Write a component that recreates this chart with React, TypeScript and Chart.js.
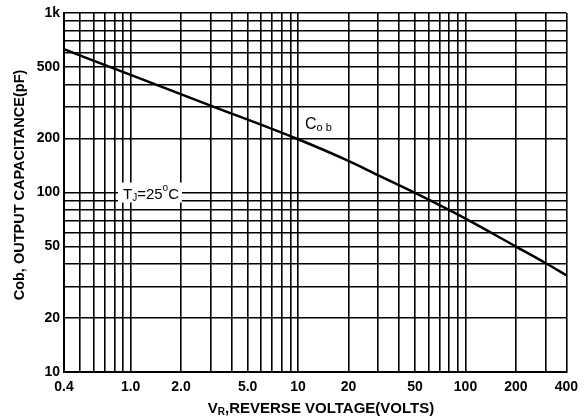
import React, { useEffect, useRef } from 'react';
import { Chart, registerables } from 'chart.js';

Chart.register(...registerables);

// Curve: reverse voltage (V) vs output capacitance (pF)
const voltage = [0.4, 1, 3, 10, 20, 30, 50, 100, 200, 300, 400];
const capacitance = [628, 452, 305, 198, 150, 125, 99.5, 71.6, 50, 40.5, 34.6];

// Axis ticks (grid lines) and labels
const xGridValues = [0.4, 0.5, 0.6, 0.7, 0.8, 0.9, 1, 2, 3, 4, 5, 6, 7, 8, 9, 10, 20, 30, 40, 50, 60, 70, 80, 90, 100, 200, 300, 400];
const xLabelValues = [0.4, 1, 2, 5, 10, 20, 50, 100, 200, 400];
const xLabelTexts = ['0.4', '1.0', '2.0', '5.0', '10', '20', '50', '100', '200', '400'];

const yGridValues = [10, 20, 30, 40, 50, 60, 70, 80, 90, 100, 200, 300, 400, 500, 600, 700, 800, 900, 1000];
const yLabelValues = [10, 20, 50, 100, 200, 500, 1000];
const yLabelTexts = ['10', '20', '50', '100', '200', '500', '1k'];

const FONT = '"Liberation Sans", Arial, sans-serif';
const NARROW = '"Liberation Sans Narrow", "Liberation Sans", Arial, sans-serif';

const textPlugin = {
  id: 'textPlugin',
  afterDraw(chart: any) {
    const ctx = chart.ctx as CanvasRenderingContext2D;
    const xs = chart.scales.x;
    const ys = chart.scales.y;
    ctx.save();
    ctx.fillStyle = '#000';
    ctx.textBaseline = 'alphabetic';

    // X axis title with subscript
    const big = `bold 15px ${FONT}`;
    const small = `bold 10px ${FONT}`;
    ctx.font = big;
    const wV = ctx.measureText('V').width;
    const wRest = ctx.measureText(',REVERSE VOLTAGE(VOLTS)').width;
    ctx.font = small;
    const wR = ctx.measureText('R').width;
    const total = wV + wR + wRest;
    const cx = 321;
    let x = cx - total / 2;
    const by = 413;
    ctx.font = big;
    ctx.fillText('V', x, by);
    x += wV;
    ctx.font = small;
    ctx.fillText('R', x, by + 2);
    x += wR;
    ctx.font = big;
    ctx.fillText(',REVERSE VOLTAGE(VOLTS)', x, by);

    // Y axis title
    ctx.save();
    ctx.translate(24, 185);
    ctx.rotate(-Math.PI / 2);
    ctx.textAlign = 'center';
    ctx.font = `bold 14.5px ${FONT}`;
    ctx.fillText('Cob, OUTPUT CAPACITANCE(pF)', 0, 0);
    ctx.restore();

    // T_J = 25 °C label with white box
    const tx = xs.getPixelForValue(0.9);
    const ty = ys.getPixelForValue(100);
    const f14 = `15px ${FONT}`;
    const f9 = `10px ${FONT}`;
    ctx.font = f14;
    const wT = ctx.measureText('T').width;
    const wEq = ctx.measureText('=25').width;
    const wC = ctx.measureText('C').width;
    ctx.font = f9;
    const wJ = ctx.measureText('J').width;
    const wo = ctx.measureText('o').width;
    const tw = wT + wJ + wEq + wo + wC;
    ctx.fillStyle = '#fff';
    ctx.fillRect(tx - 5, ty - 10, tw + 8, 20);
    ctx.fillStyle = '#000';
    let px = tx;
    const base = ty + 6;
    ctx.font = f14;
    ctx.fillText('T', px, base);
    px += wT;
    ctx.font = f9;
    ctx.fillText('J', px, base + 2);
    px += wJ;
    ctx.font = f14;
    ctx.fillText('=25', px, base);
    px += wEq;
    ctx.font = f9;
    ctx.fillText('o', px, base - 8);
    px += wo;
    ctx.font = f14;
    ctx.fillText('C', px, base);

    // C_ob label
    const cxp = xs.getPixelForValue(11);
    const cyp = ys.getPixelForValue(245);
    const f15 = `16px ${FONT}`;
    const f10 = `11px ${FONT}`;
    ctx.font = f15;
    const wCc = ctx.measureText('C').width;
    ctx.fillText('C', cxp, cyp + 6);
    ctx.font = f10;
    ctx.fillText('o b', cxp + wCc, cyp + 8);

    ctx.restore();
  },
};

export default function App() {
  const ref = useRef<HTMLCanvasElement | null>(null);

  useEffect(() => {
    const canvas = ref.current;
    if (!canvas) return;
    const data = voltage.map((v, i) => ({ x: v, y: capacitance[i] }));
    const chart = new Chart(canvas, {
      type: 'line',
      data: {
        datasets: [
          {
            label: 'Cob',
            data,
            borderColor: '#000',
            borderWidth: 2.5,
            pointRadius: 0,
            cubicInterpolationMode: 'monotone',
            fill: false,
          },
        ],
      },
      options: {
        animation: false,
        responsive: false,
        layout: { padding: { left: 0, right: 14, top: 13, bottom: 0 } },
        plugins: { legend: { display: false }, tooltip: { enabled: false }, title: { display: false } },
        scales: {
          x: {
            type: 'logarithmic',
            min: 0.4,
            max: 400,
            afterBuildTicks: (s: any) => {
              s.ticks = xGridValues.map((v) => ({ value: v }));
            },
            afterFit: (s: any) => {
              s.height = 47;
            },
            ticks: {
              autoSkip: false,
              maxRotation: 0,
              padding: 7,
              color: '#000',
              font: { family: NARROW, size: 14, weight: 'bold' },
              callback: (value: any) => {
                const i = xLabelValues.findIndex((v) => Math.abs(v - Number(value)) < 1e-9);
                return i >= 0 ? xLabelTexts[i] : '';
              },
            },
            grid: { color: '#000', lineWidth: 1.6, drawTicks: false },
            border: { color: '#000', width: 2 },
          },
          y: {
            type: 'logarithmic',
            min: 10,
            max: 1000,
            afterBuildTicks: (s: any) => {
              s.ticks = yGridValues.map((v) => ({ value: v }));
            },
            afterFit: (s: any) => {
              s.width = 64;
            },
            ticks: {
              autoSkip: false,
              padding: 4,
              color: '#000',
              font: { family: NARROW, size: 14, weight: 'bold' },
              callback: (value: any) => {
                const i = yLabelValues.findIndex((v) => Math.abs(v - Number(value)) < 1e-9);
                return i >= 0 ? yLabelTexts[i] : '';
              },
            },
            grid: { color: '#000', lineWidth: 1.6, drawTicks: false },
            border: { color: '#000', width: 2 },
          },
        },
      },
      plugins: [textPlugin],
    });
    return () => chart.destroy();
  }, []);

  return (
    <div style={{ position: 'fixed', left: 0, top: 0, width: 585, height: 419, background: '#fff' }}>
      <canvas ref={ref} width={585} height={419} style={{ display: 'block' }} />
    </div>
  );
}
